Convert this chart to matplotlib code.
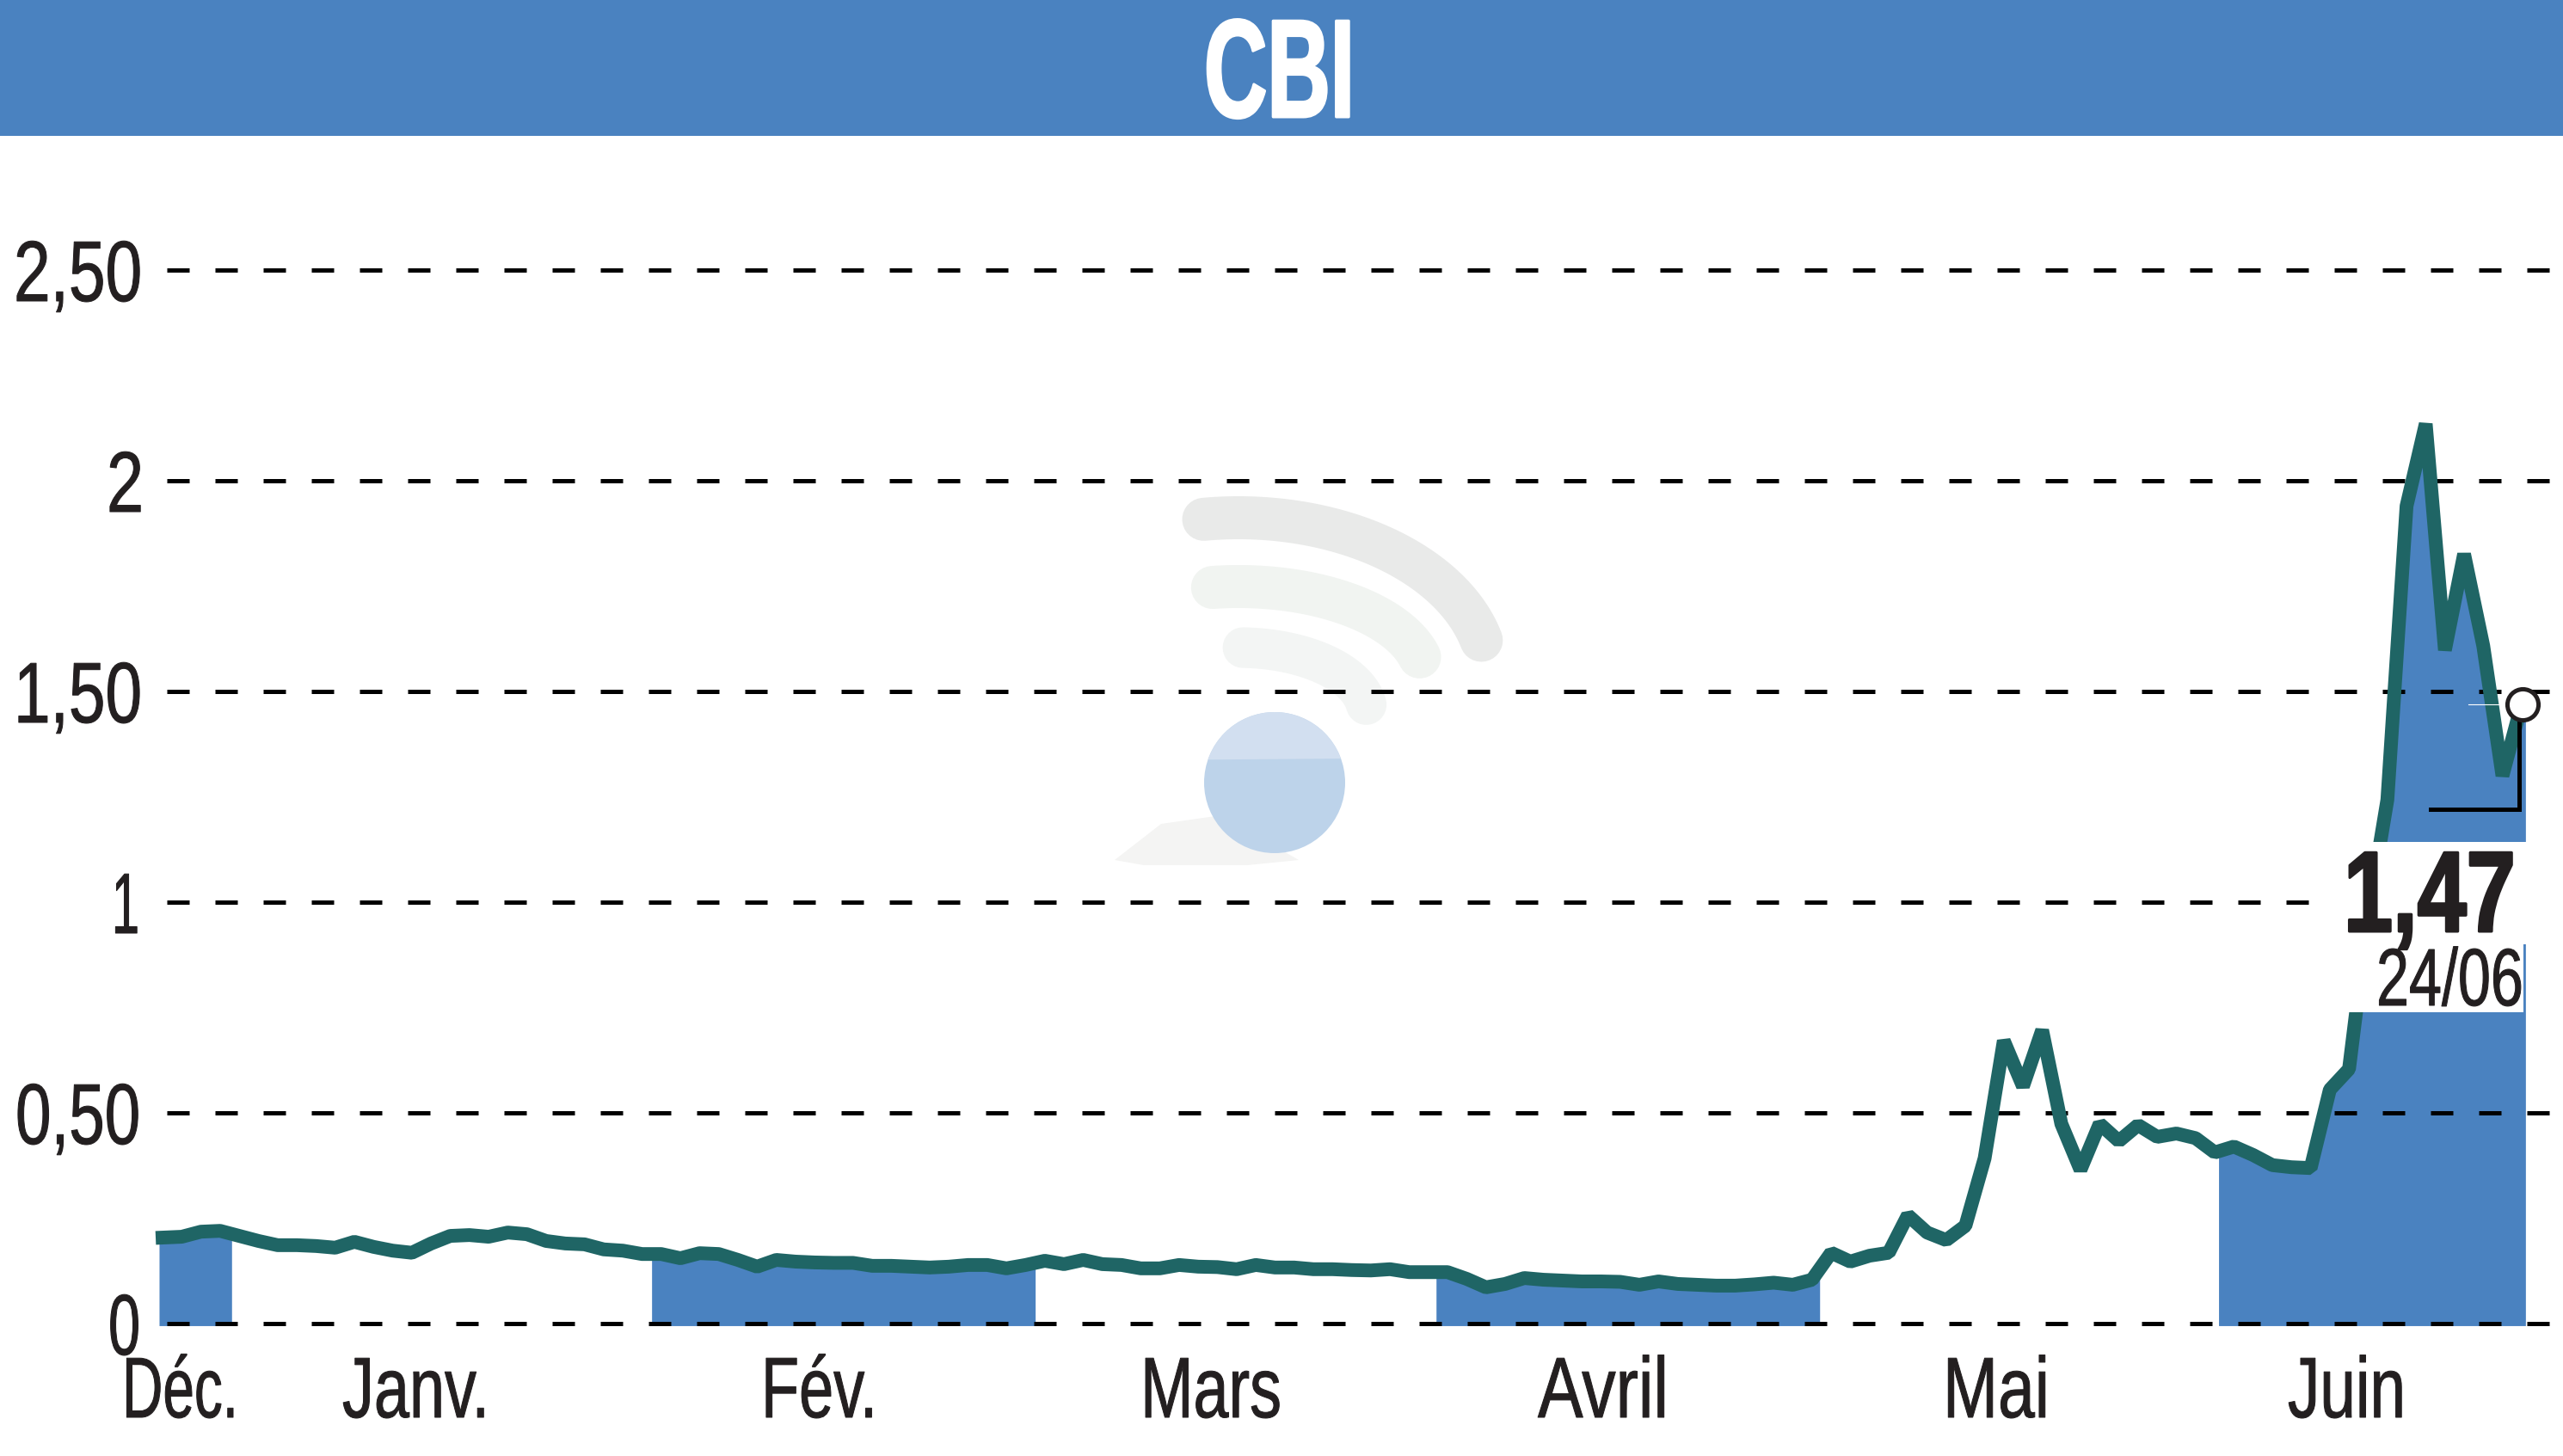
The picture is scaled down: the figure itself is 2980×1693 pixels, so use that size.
#!/usr/bin/env python
# CBI cours sur 6 mois
import numpy as np
import matplotlib
matplotlib.use('Agg')
import matplotlib.pyplot as plt
from matplotlib.patches import Rectangle, Circle, Polygon
from matplotlib.patheffects import AbstractPathEffect
from matplotlib.transforms import Affine2D

plt.rcParams['font.family'] = ['Liberation Sans', 'DejaVu Sans']

# cours de cloture, un point par jour ouvre
cours = [0.204, 0.206, 0.218, 0.220, 0.208, 0.196, 0.186, 0.186, 0.184, 0.180,
         0.194, 0.182, 0.173, 0.168, 0.190, 0.208, 0.210, 0.206, 0.216, 0.212,
         0.196, 0.190, 0.188, 0.176, 0.173, 0.165, 0.165, 0.155, 0.167, 0.165,
         0.151, 0.135, 0.151, 0.147, 0.145, 0.144, 0.144, 0.137, 0.137, 0.135,
         0.133, 0.135, 0.139, 0.139, 0.131, 0.139, 0.149, 0.141, 0.151, 0.141,
         0.139, 0.131, 0.131, 0.139, 0.135, 0.134, 0.129, 0.139, 0.133, 0.133,
         0.129, 0.129, 0.127, 0.126, 0.129, 0.122, 0.122, 0.122, 0.106, 0.086,
         0.094, 0.108, 0.104, 0.102, 0.100, 0.100, 0.099, 0.092, 0.100, 0.094,
         0.092, 0.090, 0.090, 0.093, 0.097, 0.092, 0.104, 0.168, 0.147, 0.161,
         0.168, 0.257, 0.216, 0.198, 0.232, 0.392, 0.671, 0.563, 0.696, 0.474,
         0.365, 0.474, 0.433, 0.471, 0.443, 0.451, 0.440, 0.406, 0.420, 0.400,
         0.376, 0.371, 0.369, 0.555, 0.604, 0.970, 1.243, 1.940, 2.135, 1.598,
         1.826, 1.608, 1.300, 1.470]

# mois colores : debut et fin en numero de seance
bandes = [(-0.18, 3.6), (25.5, 45.5), (66.4, 86.4), (107.2, 123.2)]
mois = ['Déc.', 'Janv.', 'Fév.', 'Mars', 'Avril', 'Mai', 'Juin']
mois_x = [(142, 277), (398, 569), (885, 1020), (1326, 1490), (1788, 1940), (2259, 2383), (2660, 2797)]
y_ticks = [0, 0.5, 1, 1.5, 2, 2.5]
y_labels = ['0', '0,50', '1', '1,50', '2', '2,50']
y_labels_x = [(126, 163), (18, 163), (130, 162), (16, 165), (124, 167), (16, 165)]
dernier = '1,47'
date = '24/06'
titre = 'CBI'

BLEU = '#4a82c0'
VERT = '#1f6565'
NOIR = '#231f20'
W, H = 2980, 1693


class Serre(AbstractPathEffect):
    # resserre le texte en largeur, pas de police etroite installee
    def __init__(self, x0, f, gras, color):
        super().__init__()
        self.x0, self.f, self.gras, self.color = x0, f, gras, color

    def draw_path(self, renderer, gc, tpath, affine, rgbFace=None):
        aff = affine + Affine2D().translate(-self.x0, 0).scale(self.f, 1).translate(self.x0, 0)
        gc0 = renderer.new_gc()
        gc0.copy_properties(gc)
        gc0.set_linewidth(self.gras*0.72)
        gc0.set_foreground(self.color)
        renderer.draw_path(gc0, tpath, aff, rgbFace)
        gc0.restore()


def texte(x0, x1, base, s, size, color=NOIR, weight='normal', gras=1, droite=False):
    # x0, x1 : bords gauche et droit voulus en pixels
    xa = x1 if droite else x0
    t = ov.text(xa, base, s, color=color, fontsize=size, fontweight=weight,
                ha='right' if droite else 'left', va='baseline', zorder=3)
    larg = t.get_window_extent(fig.canvas.get_renderer()).width
    t.set_path_effects([Serre(ov.transData.transform((xa, 0))[0], (x1-x0)/larg, gras, color)])
    return t


seances = np.arange(len(cours))

fig = plt.figure(figsize=(W/100, H/100), dpi=100)
# fond (logo), donnees, puis habillage en pixels
bg = fig.add_axes([0, 0, 1, 1], zorder=1)
ax = fig.add_axes([0, 0, 1, 1], zorder=2)
ov = fig.add_axes([0, 0, 1, 1], zorder=3)
for a in (bg, ov):
    a.set_xlim(0, W)
    a.set_ylim(H, 0)
    a.axis('off')
ax.set_xlim(-189/22.3, (W-189)/22.3)
ax.set_ylim((1539-H)/490, 1539/490)
ax.axis('off')
ax.patch.set_alpha(0)

# logo en filigrane
t = np.radians(np.linspace(14, 98, 60))
bg.plot(1440+291*np.cos(t), 790-188*np.sin(t), color='#e9eae9', lw=36, solid_capstyle='round')
bg.plot(1440+217*np.cos(t), 790-108*np.sin(t), color='#f1f4f1', lw=36, solid_capstyle='round')
t = np.radians(np.linspace(8, 88, 60))
bg.plot(1440+150*np.cos(t), 830-77*np.sin(t), color='#f3f5f4', lw=34, solid_capstyle='round')
bg.add_patch(Polygon([(1296, 1000), (1350, 958), (1420, 948), (1510, 1000), (1450, 1006), (1330, 1006)],
                     fc='#f4f4f3', ec='none'))
bg.add_patch(Circle((1482, 910), 82, fc='#bdd3ea', ec='none'))
t = np.linspace(0, 2*np.pi, 200)
cx, cy = 1482+82*np.cos(t), 910+82*np.sin(t)
haut = cy < 884
bg.fill(cx[haut], cy[haut], color='#d2dff0', lw=0)

# aires des mois pairs
for d, f in bandes:
    xs = np.r_[d, seances[(seances > d) & (seances < f)], f]
    ax.fill_between(xs, -0.005, np.interp(xs, seances, cours), color=BLEU, lw=0, zorder=1)

for v in y_ticks:
    ax.plot([(194-189)/22.3, (W-189)/22.3], [v, v], color='black', lw=3.6,
            dashes=(26/5, 30/5), dash_capstyle='butt', zorder=2)

ax.plot(seances, cours, color=VERT, lw=11.5, solid_joinstyle='bevel', zorder=3)

# caches blancs sous le dernier cours
ov.add_patch(Rectangle((2697, 979), 273, 119, fc='white', ec='none', zorder=1))
ov.add_patch(Rectangle((2700, 1098), 234, 79, fc='white', ec='none', zorder=1))

# bandeau titre
ov.add_patch(Rectangle((0, 0), W, 158, fc=BLEU, ec='none', zorder=1))
texte(1400, 1575, 136, titre, 117, color='white', weight='bold', gras=3)

# repere du dernier cours
py = 1539-490*cours[-1]
ov.plot([2870, 2913], [py, py], color='white', lw=0.8, zorder=2)
ov.plot([2929, 2929, 2826], [py, 941, 941], color='black', lw=3.6,
        solid_joinstyle='miter', zorder=2)
ov.plot([2933], [py], 'o', ms=26, mfc='white', mec=NOIR, mew=3.6, zorder=3)

texte(2725, 2925, 1083, dernier, 96, weight='bold', gras=3, droite=True)
texte(2763, 2934, 1169, date, 68, droite=True)

for v, lab, (x0, x1) in zip(y_ticks, y_labels, y_labels_x):
    texte(x0, x1, 1539-490*v+36, lab, 72)
for lab, (x0, x1) in zip(mois, mois_x):
    texte(x0, x1, 1648, lab, 72)

fig.savefig('out.png', dpi=100, facecolor='white')
